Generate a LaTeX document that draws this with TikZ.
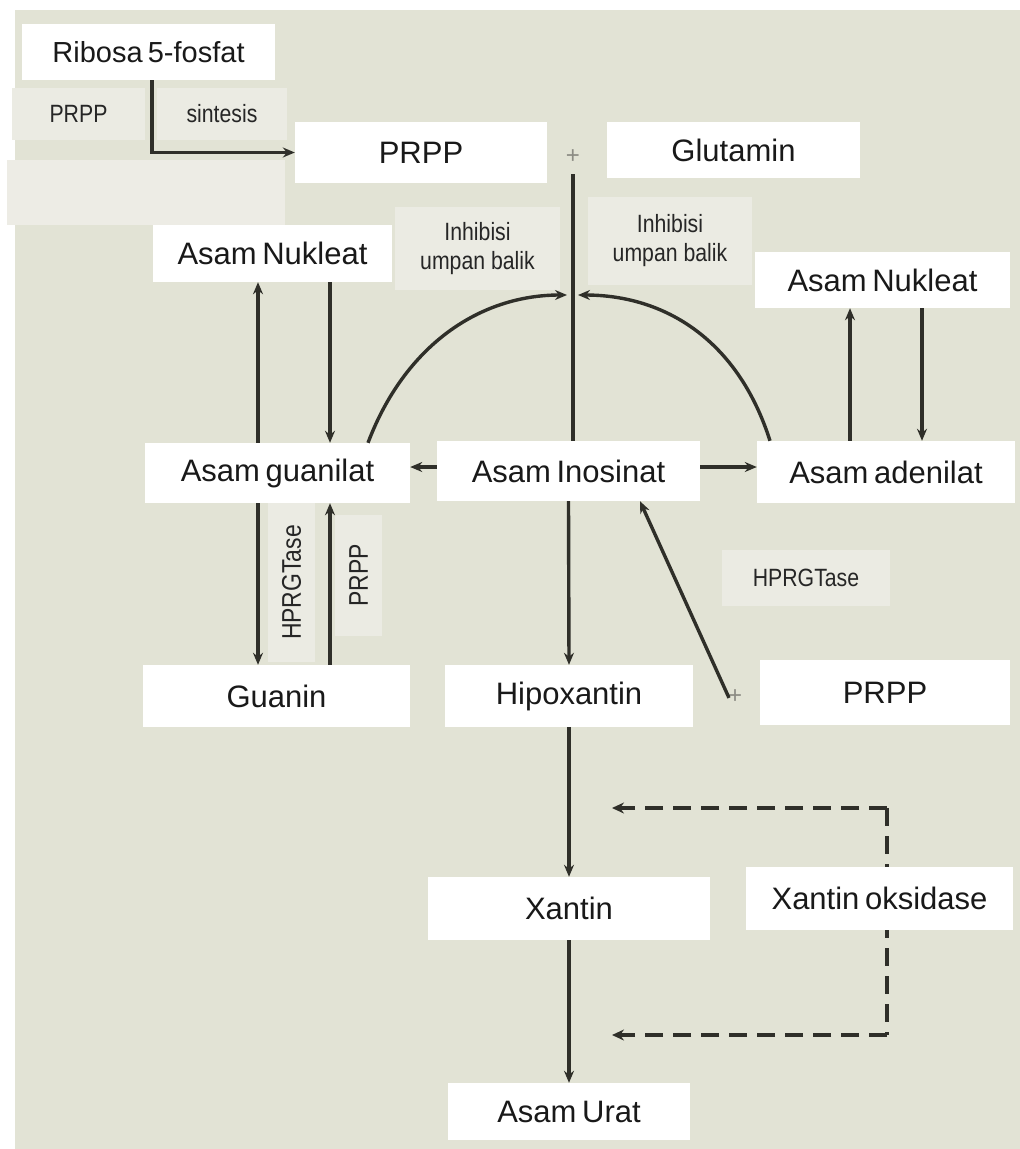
\documentclass[tikz,border=0pt]{standalone}
\usepackage{fontspec}
\setmainfont{Liberation Sans}[WordSpace=0.65]
\newfontfamily\narrowfont{Liberation Sans}[FakeStretch=0.85]
\usetikzlibrary{arrows.meta}
\definecolor{panelbg}{HTML}{E2E3D5}
\definecolor{tagfill}{HTML}{EBEBE3}
\definecolor{blankfill}{HTML}{EDECE5}
\definecolor{linegrey}{HTML}{2F2F29}
\definecolor{plusgrey}{HTML}{8C8C84}
\begin{document}
\begin{tikzpicture}[x=1pt,y=-1pt,
  sub/.style={fill=white,inner sep=0pt,text=black!90,font=\fontsize{31}{36}\selectfont},
  tag/.style={fill=tagfill,inner sep=0pt,align=center,text=black!85,font=\narrowfont\fontsize{25}{29}\selectfont},
  vtag/.style={tag,rotate=90,font=\narrowfont\fontsize{27}{30}\selectfont},
  plus/.style={text=plusgrey,inner sep=0pt,font=\fontsize{24}{24}\selectfont},
  arr/.style={-{Stealth[length=12pt,width=10pt]},line width=3.4pt,linegrey},
  dsh/.style={line width=4pt,linegrey,dash pattern=on 18pt off 10pt},
  darr/.style={dsh,-{Stealth[length=12pt,width=11pt]}}]
\useasboundingbox (0,0) rectangle (1020,1149);
\fill[white] (0,0) rectangle (1020,1149);
\fill[panelbg] (15,10) rectangle (1020,1149);
% xantin oksidase loop, under the boxes
\coordinate (dtop) at (887,808);
\coordinate (dbot) at (887,1035);
\coordinate (dend1) at (612,808);
\coordinate (dend2) at (612,1035);
\draw[dsh] (dtop) -- (dbot);
\draw[darr] (dtop) -- (dend1);
\draw[darr] (dbot) -- (dend2);
% boxes
\node[sub,minimum width=253,minimum height=56,font=\fontsize{29}{34}\selectfont] (rib) at (148.5,52) {Ribosa 5-fosfat};
\node[tag,minimum width=133,minimum height=52] (tprpp) at (78.5,114) {PRPP};
\node[tag,minimum width=130,minimum height=52] (tsint) at (222,114) {sintesis};
\node[fill=blankfill,minimum width=278,minimum height=65] (blank) at (146,192.5) {};
\node[sub,minimum width=252,minimum height=61] (prpp) at (421,152.5) {PRPP};
\node[plus] (plus1) at (573,157) {+};
\node[sub,minimum width=253,minimum height=56] (glut) at (733.5,150) {Glutamin};
\node[tag,minimum width=165,minimum height=83] (inh1) at (477.5,248.5) {Inhibisi\\umpan balik};
\node[tag,minimum width=164,minimum height=88] (inh2) at (670,241) {Inhibisi\\umpan balik};
\node[sub,minimum width=239,minimum height=57] (nuk1) at (272.5,253.5) {Asam Nukleat};
\node[sub,minimum width=255,minimum height=56] (nuk2) at (882.5,280) {Asam Nukleat};
\node[sub,minimum width=265,minimum height=60] (gua) at (277.5,473) {Asam guanilat};
\node[sub,minimum width=263,minimum height=60] (ino) at (568.5,471) {Asam Inosinat};
\node[sub,minimum width=258,minimum height=62] (ade) at (886,472) {Asam adenilat};
\node[vtag,minimum width=159,minimum height=47] (hpr1) at (291.5,582.5) {HPRGTase};
\node[vtag,minimum width=121,minimum height=47] (tprpp2) at (358.5,575.5) {PRPP};
\node[tag,minimum width=168,minimum height=56] (hpr2) at (806,578) {HPRGTase};
\node[sub,minimum width=267,minimum height=62] (guan) at (276.5,696) {Guanin};
\node[sub,minimum width=248,minimum height=62] (hipo) at (569,696) {Hipoxantin};
\node[plus] (plus2) at (735,697) {+};
\node[sub,minimum width=250,minimum height=65] (prpp2) at (885,692.5) {PRPP};
\node[sub,minimum width=282,minimum height=63] (xan) at (569,908.5) {Xantin};
\node[sub,minimum width=267,minimum height=63] (xo) at (879.5,898.5) {Xantin oksidase};
\node[sub,minimum width=242,minimum height=57] (urat) at (569,1111.5) {Asam Urat};
% connectors
\draw[arr] ([xshift=3.5]rib.south) |- (prpp.west);
\draw[line width=3.4pt,linegrey] ([yshift=-10]plus1.south) -- (ino.north -| plus1);
\coordinate (fbL) at (567,295);
\coordinate (fbR) at (578,295);
\draw[arr] ([xshift=90.5]gua.north) .. controls (405,345) and (480,295) .. (fbL);
\draw[arr] ([xshift=-116]ade.north) .. controls (738,340) and (665,295) .. (fbR);
\draw[arr] ([xshift=-19.5]gua.north) -- ([xshift=-19.5]gua.north |- nuk1.south);
\draw[arr] ([xshift=52.5]gua.north |- nuk1.south) -- ([xshift=52.5]gua.north);
\draw[arr] ([xshift=-36]ade.north) -- ([xshift=-36]ade.north |- nuk2.south);
\draw[arr] ([xshift=36]ade.north |- nuk2.south) -- ([xshift=36]ade.north);
\draw[arr] ([yshift=4]ino.west) -- ([yshift=4]ino.west -| gua.east);
\draw[arr] ([yshift=4]ino.east) -- ([yshift=4]ino.east -| ade.west);
\draw[arr] ([xshift=-19.5]gua.south) -- ([xshift=-19.5]gua.south |- guan.north);
\draw[arr] ([xshift=52.5]gua.south |- guan.north) -- ([xshift=52.5]gua.south);
\draw[arr] (ino.south) -- (hipo.north);
\draw[arr] ([xshift=-6,yshift=-8]plus2.north) -- ([xshift=71.5]ino.south);
\draw[arr] (hipo.south) -- (xan.north);
\draw[arr] (xan.south) -- (urat.north);
\end{tikzpicture}
\end{document}
